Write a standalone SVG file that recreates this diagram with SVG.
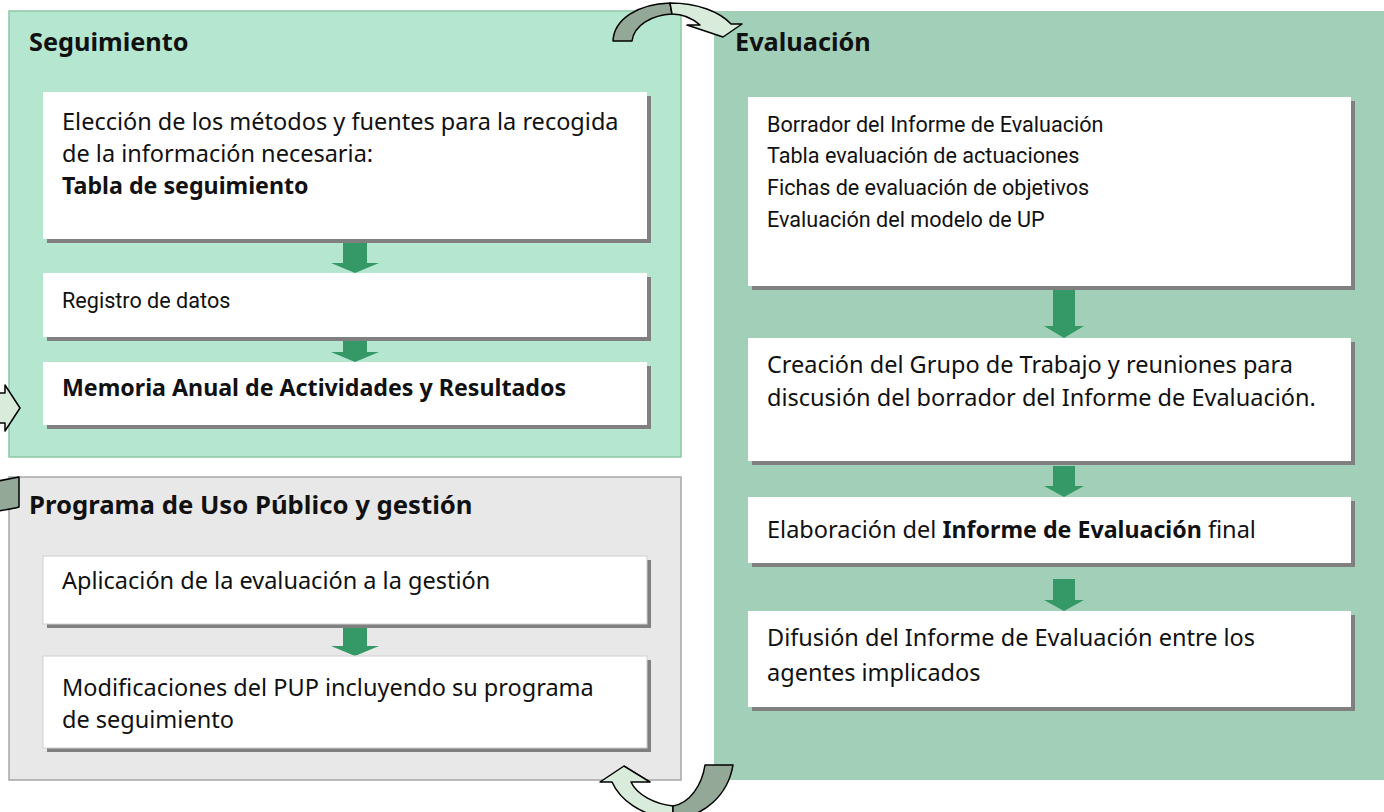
<svg xmlns="http://www.w3.org/2000/svg" width="1384" height="812" viewBox="0 0 1384 812">
<defs>
<style>
.t{font-family:"Noto Sans","Open Sans","Liberation Sans",sans-serif;font-size:23.5px;fill:#111}
.b{font-weight:bold;font-size:23.2px}
.h{font-family:"Noto Sans","Open Sans","Liberation Sans",sans-serif;font-size:25.3px;font-weight:bold;fill:#111}
.n{font-family:Roboto,"Liberation Sans",sans-serif;font-size:21.6px;fill:#111}
.box{fill:#fff}
.sh{fill:#808080}
.dn{fill:#349966}
.dark{fill:#93a897;stroke:#000;stroke-width:1.5;stroke-linejoin:round}
.light{fill:#d9ecdb;stroke:#000;stroke-width:1.5;stroke-linejoin:round}
</style>
</defs>
<rect width="1384" height="812" fill="#fff"/>

<g id="panel-evaluacion">
<rect x="714" y="11" width="670" height="769" fill="#a1cfb8"/>
<text class="h" x="735" y="51">Evaluación</text>
</g>
<g id="panel-seguimiento">
<rect x="9" y="11" width="672" height="446" fill="#b5e6cf" stroke="#8dc8a6" stroke-width="1.5"/>
<text class="h" x="29" y="51">Seguimiento</text>
</g>
<g id="panel-programa">
<rect x="9" y="477" width="672" height="303" fill="#e8e8e8" stroke="#a6a6a6" stroke-width="1.5"/>
<text class="h" x="29" y="514" style="font-size:25.7px">Programa de Uso Público y gestión</text>
</g>

<g id="connectors">
<path class="dn" d="M343,242 H367 V263 H379 L355,273 L331,263 H343 Z"/>
<path class="dn" d="M343,338 H367 V352 H379 L355,362 L331,352 H343 Z"/>
<path class="dn" d="M343,628 H367 V646 H379 L355,656 L331,646 H343 Z"/>
<path class="dn" d="M1053,288 H1075 V326 H1084 L1064,338 L1044,326 H1053 Z"/>
<path class="dn" d="M1053,466 H1075 V486 H1084 L1064,497 L1044,486 H1053 Z"/>
<path class="dn" d="M1053,579 H1075 V600 H1084 L1064,611 L1044,600 H1053 Z"/>
<g id="cycle-top">
<path class="dark" d="M613,41 C614,19 638,4 670,3 L672,14 C652,15 634,25 632,41 Z"/>
<path class="light" d="M670,3 C698,3 720,12 731,24 L742,24 L723,37 L687,25 L700,25 C692,18 684,14 672,14 Z"/>
</g>
<g id="cycle-bottom">
<path class="light" d="M612,782 L600,782 L624,766 L650,782 L631,782 C637,795 655,804 673,806 L673,820 C640,815 620,800 612,782 Z"/>
<path class="dark" d="M673,820 C705,816 728,795 733,765 L705,765 C702,785 690,803 673,806 Z"/>
</g>
<g id="cycle-left">
<path class="light" d="M-2,393 L5,393 L5,385 L20,408 L5,431 L5,423 L-2,423 Z"/>
<path class="dark" d="M-2,481 L19,477 L19,507 C12,509 5,510 -2,511 Z"/>
</g>
</g>

<g id="seg-1">
<rect class="sh" x="47" y="96" width="604" height="147"/>
<rect class="box" x="43" y="92" width="604" height="147"/>
<text class="t" x="62" y="130">Elección de los métodos y fuentes para la recogida</text>
<text class="t" x="62" y="162">de la información necesaria:</text>
<text class="t b" x="62" y="194">Tabla de seguimiento</text>
</g>
<g id="seg-2">
<rect class="sh" x="47" y="277" width="604" height="64"/>
<rect class="box" x="43" y="273" width="604" height="64"/>
<text class="n" x="62" y="308">Registro de datos</text>
</g>
<g id="seg-3">
<rect class="sh" x="47" y="366" width="604" height="63"/>
<rect class="box" x="43" y="362" width="604" height="63"/>
<text class="t b" x="62" y="396">Memoria Anual de Actividades y Resultados</text>
</g>

<g id="eval-1">
<rect class="sh" x="752" y="101" width="603" height="189"/>
<rect class="box" x="748" y="97" width="603" height="189"/>
<text class="n" x="767" y="132">Borrador del Informe de Evaluación</text>
<text class="n" x="767" y="163">Tabla evaluación de actuaciones</text>
<text class="n" x="767" y="195">Fichas de evaluación de objetivos</text>
<text class="n" x="767" y="227">Evaluación del modelo de UP</text>
</g>
<g id="eval-2">
<rect class="sh" x="752" y="342" width="603" height="123"/>
<rect class="box" x="748" y="338" width="603" height="123"/>
<text class="t" x="767" y="373">Creación del Grupo de Trabajo y reuniones para</text>
<text class="t" x="767" y="406">discusión del borrador del Informe de Evaluación.</text>
</g>
<g id="eval-3">
<rect class="sh" x="752" y="501" width="603" height="66"/>
<rect class="box" x="748" y="497" width="603" height="66"/>
<text class="t" x="767" y="538">Elaboración del <tspan class="b">Informe de Evaluación</tspan> final</text>
</g>
<g id="eval-4">
<rect class="sh" x="752" y="615" width="603" height="96"/>
<rect class="box" x="748" y="611" width="603" height="96"/>
<text class="t" x="767" y="646">Difusión del Informe de Evaluación entre los</text>
<text class="t" x="767" y="681">agentes implicados</text>
</g>

<g id="prog-1">
<rect class="sh" x="47" y="560" width="604" height="68"/>
<rect class="box" x="43" y="556" width="604" height="68" stroke="#d0d0d0" stroke-width="1"/>
<text class="t" x="62" y="589">Aplicación de la evaluación a la gestión</text>
</g>
<g id="prog-2">
<rect class="sh" x="47" y="660" width="604" height="92"/>
<rect class="box" x="43" y="656" width="604" height="92" stroke="#d0d0d0" stroke-width="1"/>
<text class="t" x="62" y="696">Modificaciones del PUP incluyendo su programa</text>
<text class="t" x="62" y="728">de seguimiento</text>
</g>
</svg>
